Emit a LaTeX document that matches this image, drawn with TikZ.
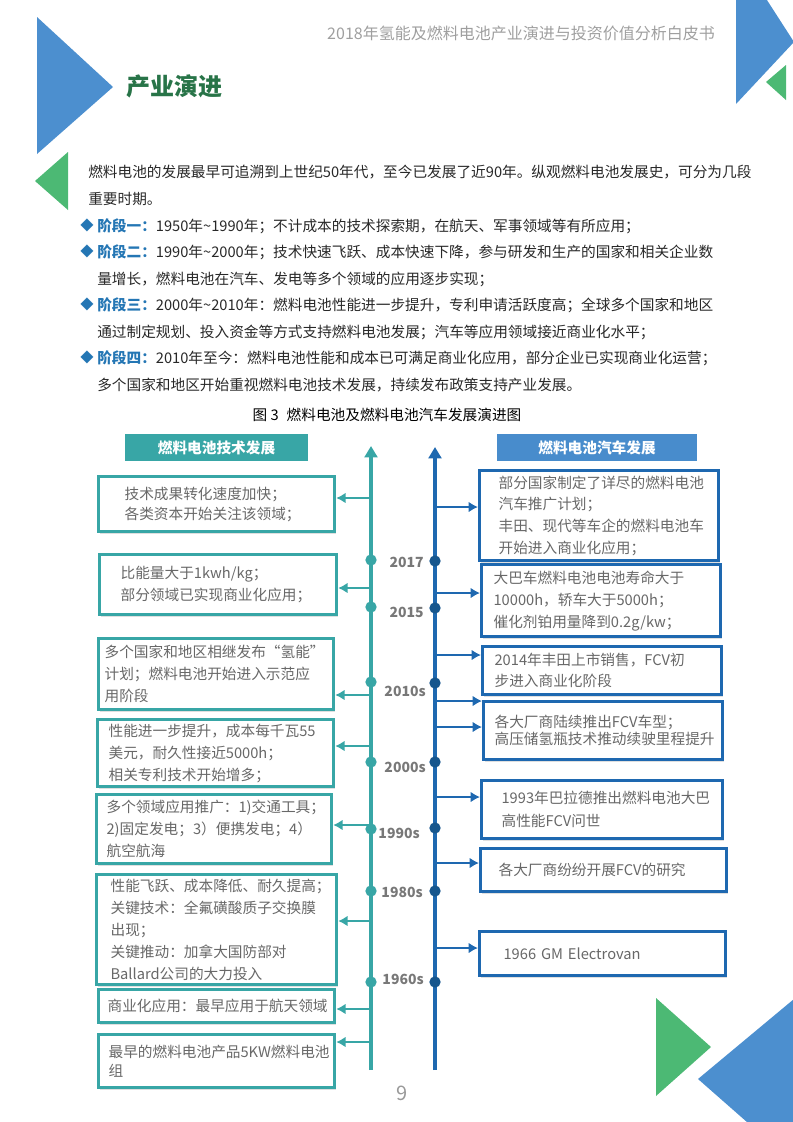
\documentclass[tikz,border=0pt]{standalone}
\usepackage{fontspec}
\setmainfont{Noto Sans CJK SC}
\usetikzlibrary{positioning, shadows, arrows.meta}

\definecolor{tealc}{RGB}{56,166,166}
\definecolor{bluec}{RGB}{30,104,176}
\definecolor{bluehead}{RGB}{72,140,204}
\definecolor{bluedot}{RGB}{22,86,142}
\definecolor{triblue}{RGB}{76,143,207}
\definecolor{trigreen}{RGB}{76,185,116}
\definecolor{titlegreen}{RGB}{40,116,72}
\definecolor{stagec}{RGB}{36,118,180}
\definecolor{boxtext}{RGB}{104,104,104}
\definecolor{yeartext}{RGB}{120,120,120}
\definecolor{bodytext}{RGB}{40,40,40}

\newcommand{\stg}[1]{{\color{stagec}\bfseries #1}}

\begin{document}
\begin{tikzpicture}[x=0.75pt, y=-0.75pt]

\tikzstyle{body}=[inner sep=0pt, anchor=north west, align=left, text=bodytext, font=\fontsize{11}{19.9}\selectfont]
\tikzstyle{bulletmk}=[inner sep=0pt, text=stagec, font=\fontsize{10}{12}\selectfont]
\tikzstyle{tbox}=[draw=tealc, line width=2.4pt, fill=white, anchor=north west, align=left, inner ysep=0pt, text=boxtext, font=\fontsize{11}{16.5}\selectfont, drop shadow={opacity=0.25, shadow xshift=1.3pt, shadow yshift=-1.5pt}]
\tikzstyle{cbox}=[tbox, draw=bluec]
\tikzstyle{headbox}=[minimum height=20.25pt, inner sep=0pt, text=white, font=\fontsize{11}{13}\selectfont\bfseries]
\tikzstyle{tdot}=[circle, fill=tealc, inner sep=0pt, minimum size=8.5pt]
\tikzstyle{bdot}=[tdot, fill=bluedot]
\tikzstyle{yearlbl}=[anchor=east, inner sep=0pt, text=yeartext, font=\fontsize{10.5}{12}\selectfont\bfseries]
\tikzstyle{tarr}=[color=tealc, line width=2.2pt, -{Latex[length=7pt, width=8pt]}]
\tikzstyle{barr}=[color=bluec, line width=2.2pt, -{Latex[length=7pt, width=8pt]}]
\tikzstyle{taxis}=[color=tealc, line width=3.2pt, -{Triangle[width=9.5pt, length=8.5pt]}]
\tikzstyle{baxis}=[color=bluec, line width=3.4pt, -{Triangle[width=9.5pt, length=8.5pt]}]

\useasboundingbox (0,0) rectangle (793,1122);

% corner triangles
\fill[triblue] (37,17) -- (113,87) -- (37,154) -- cycle;
\fill[trigreen] (68,152) -- (35,181) -- (68,210) -- cycle;
\fill[triblue] (736,-48) -- (794,42) -- (736,104) -- cycle;
\fill[trigreen] (786,65) -- (766,82) -- (786,100) -- cycle;
\fill[trigreen] (656,998) -- (711,1047) -- (656,1096) -- cycle;
\fill[triblue] (698,1079) -- (830,969) -- (830,1195) -- cycle;

% page head
\node[text=gray!75, font=\fontsize{12}{14}\selectfont] (hdr) at (521,33) {2018年氢能及燃料电池产业演进与投资价值分析白皮书};
\node[anchor=west, inner sep=0pt, text=titlegreen, font=\fontsize{18}{20}\selectfont\bfseries] (title) at (126,86) {产业演进};

% text
\node[body] (intro) at (88,165) {燃料电池的发展最早可追溯到上世纪50年代，至今已发展了近90年。纵观燃料电池发展史，可分为几段\\重要时期。};
\node[bulletmk] (b1) at (87,225) {◆};
\node[body] (s1) at (97,218) {\stg{阶段一：}1950年\textasciitilde1990年；不计成本的技术探索期，在航天、军事领域等有所应用；};
\node[bulletmk] (b2) at (87,251.5) {◆};
\node[body] (s2) at (97,244.5) {\stg{阶段二：}1990年\textasciitilde2000年；技术快速飞跃、成本快速下降，参与研发和生产的国家和相关企业数\\量增长，燃料电池在汽车、发电等多个领域的应用逐步实现；};
\node[bulletmk] (b3) at (87,304.5) {◆};
\node[body] (s3) at (97,297.5) {\stg{阶段三：}2000年\textasciitilde2010年：燃料电池性能进一步提升，专利申请活跃度高；全球多个国家和地区\\通过制定规划、投入资金等方式支持燃料电池发展；汽车等应用领域接近商业化水平；};
\node[bulletmk] (b4) at (87,357.5) {◆};
\node[body] (s4) at (97,350.5) {\stg{阶段四：}2010年至今：燃料电池性能和成本已可满足商业化应用，部分企业已实现商业化运营；\\多个国家和地区开始重视燃料电池技术发展，持续发布政策支持产业发展。};

\node[inner sep=0pt, font=\fontsize{11}{13}\selectfont] (cap) at (387,415) {图 3\hspace{6pt}燃料电池及燃料电池汽车发展演进图};

% column heads
\node[headbox, fill=tealc, minimum width=137.25pt] (lhead) at (216.5,447.5) {燃料电池技术发展};
\node[headbox, fill=bluehead, minimum width=150pt] (rhead) at (597,447.5) {燃料电池汽车发展};

% axes
\coordinate (lbot) at (371,1070);
\coordinate (ltop) at (371,446);
\coordinate (rbot) at (435,1070);
\coordinate (rtop) at (435,447);
\draw[taxis] (lbot) -- (ltop);
\draw[baxis] (rbot) -- (rtop);

% left boxes
\node[tbox, minimum width=177pt, minimum height=41.25pt, inner xsep=19.5pt, text width=138pt, font=\fontsize{11}{15}\selectfont] (L1) at (97,475) {技术成果转化速度加快；\\各类资本开始关注该领域；};
\node[tbox, minimum width=177.75pt, minimum height=45pt, inner xsep=15.75pt, text width=146.25pt] (L2) at (98,553) {比能量大于1kwh/kg；\\部分领域已实现商业化应用；};
\node[tbox, minimum width=176.25pt, minimum height=53.25pt, inner xsep=4.5pt, text width=167.25pt] (L3) at (97,637) {多个国家和地区相继发布“氢能”\\计划；燃料电池开始进入示范应\\用阶段};
\node[tbox, minimum width=177pt, minimum height=50.25pt, inner xsep=8.25pt, text width=160.5pt] (L4) at (96,718) {性能进一步提升，成本每千瓦55\\美元，耐久性接近5000h；\\相关专利技术开始增多；};
\node[tbox, minimum width=176.25pt, minimum height=51.75pt, inner xsep=7.5pt, text width=161.25pt] (L5) at (95,793) {多个领域应用推广：1)交通工具；\\2)固定发电；3）便携发电；4）\\航空航海};
\node[tbox, minimum width=180pt, minimum height=82.5pt, inner xsep=10.5pt, text width=159pt] (L6) at (95,873) {性能飞跃、成本降低、耐久提高；\\关键技术：全氟磺酸质子交换膜\\出现；\\关键推动：加拿大国防部对\\Ballard公司的大力投入};
\node[tbox, minimum width=177pt, minimum height=24.75pt, inner xsep=6.75pt, text width=163.5pt] (L7) at (97,988) {商业化应用：最早应用于航天领域};
\node[tbox, minimum width=177pt, minimum height=39.75pt, inner xsep=7.5pt, text width=162pt, font=\fontsize{11}{14.25}\selectfont] (L8) at (97,1033) {最早的燃料电池产品5KW燃料电池\\组};

% right boxes
\node[cbox, minimum width=179.25pt, minimum height=67.5pt, inner xsep=14.25pt, text width=150.75pt, font=\fontsize{11}{16.3}\selectfont] (R1) at (478,469) {部分国家制定了详尽的燃料电池\\汽车推广计划；\\丰田、现代等车企的燃料电池车\\开始进入商业化应用；};
\node[cbox, minimum width=179.25pt, minimum height=54pt, inner xsep=9pt, text width=161.25pt] (R2) at (480,563) {大巴车燃料电池电池寿命大于\\10000h，轿车大于5000h；\\催化剂铂用量降到0.2g/kw；};
\node[cbox, minimum width=179.25pt, minimum height=36pt, inner xsep=9pt, text width=161.25pt, font=\fontsize{11}{15.75}\selectfont] (R3) at (481,645) {2014年丰田上市销售，FCV初\\步进入商业化阶段};
\node[cbox, minimum width=179.25pt, minimum height=43.5pt, inner xsep=8.25pt, text width=162.75pt, font=\fontsize{11}{12.75}\selectfont] (R4) at (482,700) {各大厂商陆续推出FCV车型；\\高压储氢瓶技术推动续驶里程提升};
\node[cbox, minimum width=180.75pt, minimum height=43.5pt, inner xsep=15pt, text width=150.75pt, font=\fontsize{11}{17.25}\selectfont] (R5) at (480,779) {1993年巴拉德推出燃料电池大巴\\高性能FCV问世};
\node[cbox, minimum width=184.5pt, minimum height=32.25pt, inner xsep=13.5pt, text width=157.5pt] (R6) at (479,847) {各大厂商纷纷开展FCV的研究};
\node[cbox, minimum width=184.5pt, minimum height=33pt, inner xsep=18pt, text width=148.5pt] (R7) at (478,930) {1966 GM Electrovan};

% arrows
\draw[tarr] (ltop |- 0,498) -- (L1.east |- 0,498);
\draw[tarr] (ltop |- 0,588) -- (L2.east |- 0,588);
\draw[tarr] (ltop |- 0,695) -- (L3.east |- 0,695);
\draw[tarr] (ltop |- 0,746) -- (L4.east |- 0,746);
\draw[tarr] (ltop |- 0,825) -- (L5.east |- 0,825);
\draw[tarr] (ltop |- 0,921) -- (L6.east |- 0,921);
\draw[tarr] (ltop |- 0,1009) -- (L7.east |- 0,1009);
\draw[tarr] (ltop |- 0,1042) -- (L8.east |- 0,1042);

\draw[barr] (rtop |- 0,507) -- (R1.west |- 0,507);
\draw[barr] (rtop |- 0,593) -- (R2.west |- 0,593);
\draw[barr] (rtop |- 0,655) -- (R3.west |- 0,655);
\draw[barr] (rtop |- 0,701) -- (R4.west |- 0,701);
\draw[barr] (rtop |- 0,727) -- (R4.west |- 0,727);
\draw[barr] (rtop |- 0,797) -- (R5.west |- 0,797);
\draw[barr] (rtop |- 0,863) -- (R6.west |- 0,863);
\draw[barr] (rtop |- 0,948) -- (R7.west |- 0,948);

% dots and years
\node[tdot] (ld2017) at (371,560) {};
\node[tdot] (ld2015) at (371,607) {};
\node[tdot] (ld2010) at (371,682) {};
\node[tdot] (ld2000) at (371,762) {};
\node[tdot] (ld1990) at (371,829) {};
\node[tdot] (ld1980) at (371,891) {};
\node[tdot] (ld1960) at (371,982) {};

\node[bdot] (rd2017) at (435,561) {};
\node[bdot] (rd2015) at (435,608) {};
\node[bdot] (rd2010) at (435,683) {};
\node[bdot] (rd2000) at (435,762) {};
\node[bdot] (rd1990) at (435,828) {};
\node[bdot] (rd1980) at (435,891) {};
\node[bdot] (rd1960) at (435,982) {};

\node[yearlbl] (y2017) at (424,562) {2017};
\node[yearlbl] (y2015) at (424,612) {2015};
\node[yearlbl] (y2010) at (426,691) {2010s};
\node[yearlbl] (y2000) at (426,767) {2000s};
\node[yearlbl] (y1990) at (420,833) {1990s};
\node[yearlbl] (y1980) at (423,892) {1980s};
\node[yearlbl] (y1960) at (424,979) {1960s};

\node[text=gray!80, font=\fontsize{15}{17}\selectfont] (pg) at (402,1093) {9};

\end{tikzpicture}
\end{document}
